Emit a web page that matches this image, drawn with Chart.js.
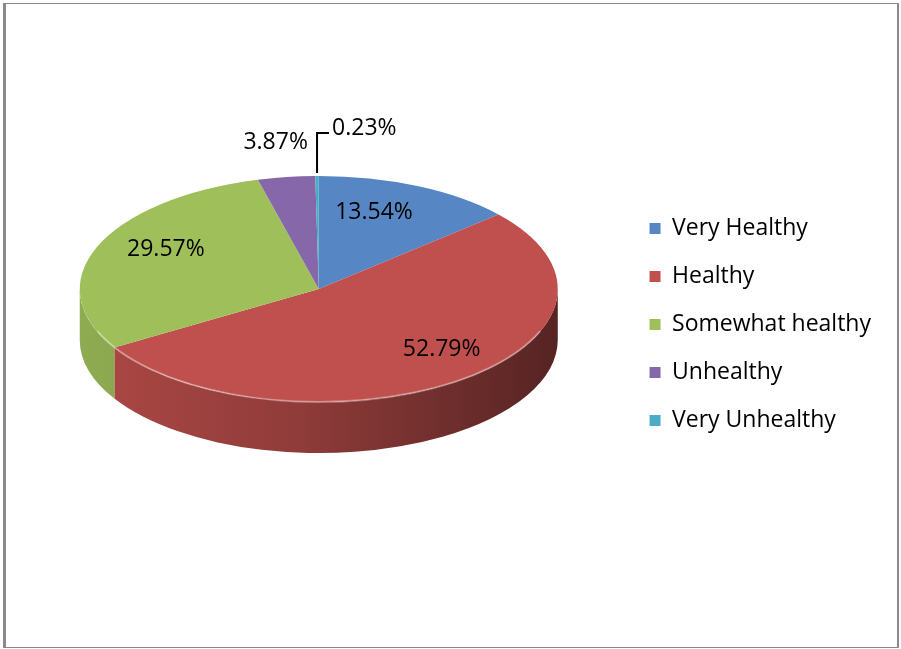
<!DOCTYPE html>
<html>
<head>
<meta charset="utf-8">
<script src="https://cdn.jsdelivr.net/npm/chart.js@4.4.1/dist/chart.umd.min.js"></script>
<style>
  html, body { margin: 0; padding: 0; background: #fff; }
  #frame {
    position: absolute; left: 3px; top: 3px; width: 891px; height: 643px;
    border-style: solid; border-color: #8a8a8a; border-width: 1px 2px 1px 3px;
  }
  #healthChart { position: absolute; left: 0; top: 0; }
</style>
</head>
<body>
<div id="frame"></div>
<canvas id="healthChart" width="901" height="649"></canvas>
<script>
const categories = ["Very Healthy", "Healthy", "Somewhat healthy", "Unhealthy", "Very Unhealthy"];
const shares = [13.54, 52.79, 29.57, 3.87, 0.23];
const shareLabels = ["13.54%", "52.79%", "29.57%", "3.87%", "0.23%"];
const sliceColors = ["#5687c4", "#c0504d", "#9fbf5b", "#8667a9", "#4bacc6"];

const FONT = "'Open Sans', sans-serif";

// darken a hex colour by factor k
function shade(hex, k) {
  const n = parseInt(hex.slice(1), 16);
  const r = Math.round(((n >> 16) & 255) * k);
  const g = Math.round(((n >> 8) & 255) * k);
  const b = Math.round((n & 255) * k);
  return `rgb(${r},${g},${b})`;
}

// squashes the pie into a tilted disc and gives it a thickness
const pieTilt = {
  id: "pieTilt",
  beforeDatasetsDraw(chart, args, opts) {
    const ctx = chart.ctx;
    const arcs = chart.getDatasetMeta(0).data;
    const { x: cx, y: cy, outerRadius: r } = arcs[0];
    const top = opts.centerY;
    const ry = r * opts.flat;

    // side wall, only the front half can be seen
    arcs.forEach((arc, i) => {
      const a1 = Math.max(arc.startAngle, 0);
      const a2 = Math.min(arc.endAngle, Math.PI);
      if (a2 <= a1) return;
      const base = chart.data.datasets[0].backgroundColor[i];
      const grad = ctx.createLinearGradient(cx - r, 0, cx + r, 0);
      grad.addColorStop(0, shade(base, 0.9));
      grad.addColorStop(0.45, shade(base, 0.75));
      grad.addColorStop(1, shade(base, 0.45));
      ctx.beginPath();
      ctx.ellipse(cx, top, r, ry, 0, a1, a2);
      ctx.ellipse(cx, top + opts.depth, r, ry, 0, a2, a1, true);
      ctx.closePath();
      ctx.fillStyle = grad;
      ctx.fill();
    });

    ctx.save();
    ctx.translate(0, top);
    ctx.scale(1, opts.flat);
    ctx.translate(0, -cy);
  },
  afterDatasetsDraw(chart, args, opts) {
    const ctx = chart.ctx;
    ctx.restore();
    const arcs = chart.getDatasetMeta(0).data;
    const { x: cx, outerRadius: r } = arcs[0];
    const top = opts.centerY;
    const ry = r * opts.flat;

    // soft highlight on the front rim
    ctx.save();
    ctx.beginPath();
    ctx.ellipse(cx, top + 1, r - 1, ry - 1, 0, 0.12 * Math.PI, 0.88 * Math.PI);
    ctx.strokeStyle = "rgba(255,255,255,0.35)";
    ctx.lineWidth = 2;
    ctx.stroke();
    ctx.restore();

    // percentage labels
    ctx.save();
    ctx.font = `${opts.fontSize}px ${FONT}`;
    ctx.fillStyle = "#000";
    ctx.textBaseline = "middle";
    arcs.forEach((arc, i) => {
      const mid = (arc.startAngle + arc.endAngle) / 2;
      const f = opts.radius[i];
      const x = cx + r * f * Math.cos(mid);
      const y = top + ry * f * Math.sin(mid) - opts.lift[i];
      if (shares[i] < 1) {
        // tiny slice: leader line up from the rim
        ctx.beginPath();
        ctx.moveTo(x, y - 3);
        ctx.lineTo(x, y - 43);
        ctx.lineTo(x + 12, y - 43);
        ctx.strokeStyle = "#000";
        ctx.lineWidth = 2;
        ctx.stroke();
        ctx.textAlign = "left";
        ctx.fillText(shareLabels[i], x + 15, y - 48);
      } else {
        ctx.textAlign = "center";
        ctx.fillText(shareLabels[i], x, y);
      }
    });
    ctx.restore();
  }
};

new Chart(document.getElementById("healthChart"), {
  type: "pie",
  data: {
    labels: categories,
    datasets: [{
      data: shares,
      backgroundColor: sliceColors,
      borderWidth: 0,
      radius: 239
    }]
  },
  options: {
    responsive: false,
    devicePixelRatio: 1,
    animation: false,
    events: [],
    layout: { padding: { left: 13, right: 20, top: 0, bottom: 0 } },
    plugins: {
      legend: {
        position: "right",
        labels: {
          color: "#000",
          font: { family: FONT, size: 23 },
          boxWidth: 11,
          boxHeight: 11,
          padding: 25
        }
      },
      tooltip: { enabled: false },
      pieTilt: {
        centerY: 289,
        flat: 113 / 239,
        depth: 51,
        fontSize: 23,
        lift: [19, 19, 10, -2, 0],
        radius: [0.56, 0.87, 0.69, 1.33, 1.0]
      }
    }
  },
  plugins: [pieTilt]
});
</script>
</body>
</html>
